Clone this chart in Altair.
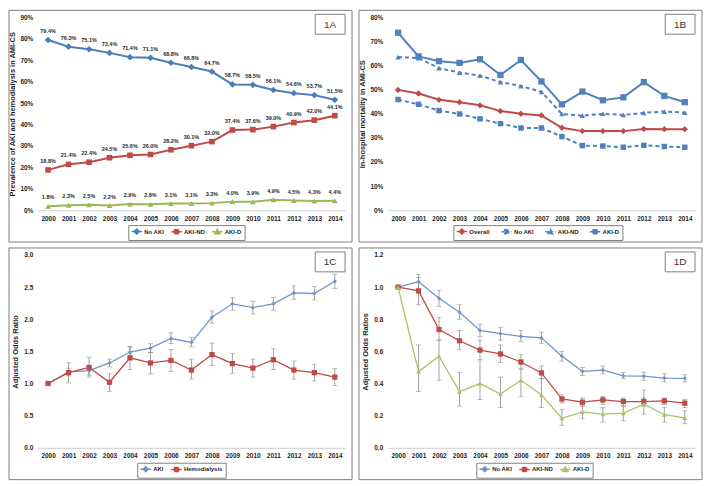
import altair as alt
import pandas as pd

years = [str(y) for y in range(2000, 2015)]

# ---- Panel 1A: prevalence (%) ----
a_names = ["No AKI", "AKI-ND", "AKI-D"]
a_no_aki = [79.4, 76.3, 75.1, 73.4, 71.4, 71.1, 68.8, 66.8, 64.7, 58.7, 58.5, 56.1, 54.6, 53.7, 51.5]
a_aki_nd = [18.8, 21.4, 22.4, 24.5, 25.6, 26.0, 28.2, 30.1, 32.0, 37.4, 37.6, 39.0, 40.9, 42.0, 44.1]
a_aki_d = [1.8, 2.3, 2.5, 2.2, 2.9, 2.8, 3.1, 3.1, 3.3, 4.0, 3.9, 4.9, 4.5, 4.3, 4.4]

# ---- Panel 1B: in-hospital mortality (%) ----
b_names = ["Overall", "No AKI", "AKI-ND", "AKI-D"]
b_overall = [49.9, 48.4, 45.8, 44.8, 43.5, 41.1, 40.0, 39.3, 34.2, 32.8, 32.8, 32.8, 33.7, 33.6, 33.6]
b_no_aki = [45.9, 43.9, 41.3, 39.9, 37.9, 35.9, 34.1, 34.1, 30.5, 26.8, 26.6, 26.1, 26.9, 26.4, 26.1]
b_aki_nd = [63.5, 63.1, 58.9, 57.1, 55.8, 53.1, 51.5, 49.1, 39.9, 39.2, 40.0, 39.5, 40.4, 40.9, 40.5]
b_aki_d = [73.6, 63.8, 61.8, 61.1, 62.6, 56.1, 62.3, 53.4, 43.9, 49.2, 45.6, 46.8, 53.1, 47.4, 44.8]

# ---- Panel 1C: adjusted odds ratio ----
c_names = ["AKI", "Hemodialysis"]
c_aki = [1.00, 1.18, 1.20, 1.32, 1.49, 1.55, 1.70, 1.64, 2.03, 2.24, 2.18, 2.24, 2.41, 2.40, 2.59]
c_aki_lo = [1.00, 1.12, 1.13, 1.26, 1.42, 1.48, 1.62, 1.57, 1.94, 2.14, 2.08, 2.14, 2.31, 2.30, 2.48]
c_aki_hi = [1.00, 1.24, 1.26, 1.38, 1.58, 1.62, 1.79, 1.72, 2.13, 2.34, 2.28, 2.34, 2.52, 2.51, 2.70]
c_hd = [1.00, 1.17, 1.25, 1.02, 1.40, 1.32, 1.36, 1.21, 1.45, 1.31, 1.24, 1.37, 1.21, 1.17, 1.10]
c_hd_lo = [1.00, 1.01, 1.10, 0.88, 1.22, 1.15, 1.19, 1.07, 1.28, 1.16, 1.10, 1.22, 1.07, 1.04, 0.97]
c_hd_hi = [1.00, 1.32, 1.41, 1.15, 1.57, 1.48, 1.53, 1.38, 1.63, 1.47, 1.38, 1.54, 1.35, 1.30, 1.23]

# ---- Panel 1D: adjusted odds ratios ----
d_names = ["No AKI", "AKI-ND", "AKI-D"]
d_no_aki = [1.00, 1.034, 0.93, 0.844, 0.73, 0.71, 0.694, 0.684, 0.57, 0.476, 0.484, 0.448, 0.446, 0.434, 0.432]
d_no_aki_lo = [1.00, 0.99, 0.88, 0.80, 0.69, 0.67, 0.66, 0.65, 0.54, 0.45, 0.46, 0.43, 0.42, 0.41, 0.41]
d_no_aki_hi = [1.00, 1.08, 0.98, 0.89, 0.77, 0.75, 0.73, 0.72, 0.60, 0.50, 0.51, 0.47, 0.47, 0.46, 0.455]
d_aki_nd = [1.00, 0.976, 0.736, 0.666, 0.608, 0.584, 0.534, 0.466, 0.304, 0.284, 0.298, 0.288, 0.288, 0.292, 0.278]
d_aki_nd_lo = [1.00, 0.89, 0.67, 0.61, 0.55, 0.53, 0.49, 0.43, 0.28, 0.26, 0.27, 0.26, 0.26, 0.27, 0.25]
d_aki_nd_hi = [1.00, 1.06, 0.81, 0.73, 0.67, 0.64, 0.58, 0.51, 0.33, 0.31, 0.32, 0.31, 0.31, 0.31, 0.30]
d_aki_d = [1.00, 0.474, 0.57, 0.35, 0.40, 0.334, 0.42, 0.33, 0.184, 0.224, 0.21, 0.216, 0.272, 0.206, 0.186]
d_aki_d_lo = [1.00, 0.35, 0.42, 0.26, 0.30, 0.25, 0.32, 0.25, 0.14, 0.18, 0.16, 0.17, 0.21, 0.16, 0.15]
d_aki_d_hi = [1.00, 0.64, 0.67, 0.47, 0.54, 0.44, 0.49, 0.43, 0.24, 0.26, 0.25, 0.26, 0.36, 0.25, 0.23]

# ---- styling ----
FN = "Liberation Sans, Arial, sans-serif"
FR = "Liberation Sans, Arial, sans-serif"
TXT = "#1f1f1f"
FRAME = "#7f7f7f"
ERR = "#8a8a8a"
BLUE = "#4a7ebb"
BLUE_B = "#4f81bd"
BLUE_L = "#7094c8"
RED = "#be4b48"
GREEN = "#98b954"
GREEN_L = "#a8c46a"
W, H = 309, 194
L, R, T, B = 29, 7, 7, 32

P_DIAMOND = "M-2.1,0H2.1M0,-1L1,0L0,1L-1,0Z"
P_SQUARE = "M-2.1,0H2.1M-0.8,-0.8H0.8V0.8H-0.8Z"
P_TRI = "M-2.1,0H2.1M0,-1L1,0.8H-1Z"


def long_df(names, vals, los=None, his=None):
    rows = []
    for i, s in enumerate(names):
        for j, y in enumerate(years):
            r = {"year": y, "series": s, "value": vals[i][j]}
            if los is not None:
                r["lo"] = los[i][j]
                r["hi"] = his[i][j]
            rows.append(r)
    return pd.DataFrame(rows)


X = alt.X("year:O", scale=alt.Scale(type="point", padding=0.5),
          axis=alt.Axis(title=None, labelAngle=0, labelFont=FN, labelFontSize=6.5,
                        labelFontWeight="bold", labelColor=TXT, labelPadding=5,
                        ticks=False, domain=True, domainColor="#d0d0d0", grid=False,
                        zindex=1))


def yenc(field, domain, values, expr, title, tpad):
    return alt.Y(f"{field}:Q", scale=alt.Scale(domain=domain, nice=False),
                 axis=alt.Axis(values=values, labelExpr=expr, title=title, ticks=False,
                               domain=False, grid=False, labelFont=FN, labelFontSize=6.5,
                               labelFontWeight="bold", labelColor=TXT, labelPadding=5,
                               titleFont=FR, titleFontSize=7.5, titleFontWeight="bold",
                               titleColor=TXT, titlePadding=tpad, zindex=1))


def frame_layers(label):
    base = alt.Chart(pd.DataFrame({"k": [label]}))
    border = base.mark_rect(fill="white", fillOpacity=0, stroke=FRAME, strokeWidth=1).encode(
        x=alt.value(-L), x2=alt.value(W + R), y=alt.value(-T), y2=alt.value(H + B))
    box = base.mark_rect(fill="white", stroke=FRAME, strokeWidth=1).encode(
        x=alt.value(W - 30), x2=alt.value(W), y=alt.value(-3), y2=alt.value(17))
    txt = base.mark_text(font=FR, fontSize=10, color="#333").encode(
        x=alt.value(W - 15), y=alt.value(7.5), text="k:N")
    return border, box, txt


def legend_layer(df, names, colors, paths, dashes, lx, ly, colpad=4):
    leg = alt.Legend(title=None, orient="none", legendX=lx, legendY=ly,
                     direction="horizontal", strokeColor=FRAME, padding=3,
                     symbolSize=25, symbolStrokeWidth=1.5, labelFont=FN,
                     labelFontSize=6, labelFontWeight="bold", labelColor=TXT,
                     columnPadding=colpad, labelOffset=4, symbolOffset=2)
    return alt.Chart(df).transform_filter("false").mark_point(filled=True, opacity=1).encode(
        fill=alt.Fill("series:N", scale=alt.Scale(domain=names, range=colors), legend=leg),
        stroke=alt.Stroke("series:N", scale=alt.Scale(domain=names, range=colors), legend=leg),
        shape=alt.Shape("series:N", scale=alt.Scale(domain=names, range=paths), legend=leg),
        strokeDash=alt.StrokeDash("series:N", scale=alt.Scale(domain=names, range=dashes), legend=leg),
    )


def series(base, name, color, shape, size, width, dash=None):
    sub = base.transform_filter(alt.datum.series == name)
    lk = dict(color=color, strokeWidth=width)
    if dash:
        lk["strokeDash"] = dash
    line = sub.mark_line(**lk)
    pts = sub.mark_point(shape=shape, filled=True, color=color, size=size, opacity=1)
    return [line, pts]


def errbars(df, yfun, name):
    sub = alt.Chart(df).transform_filter(alt.datum.series == name)
    rule = sub.mark_rule(color=ERR, strokeWidth=0.8).encode(x=X, y=yfun("lo"), y2="hi:Q")
    cap1 = sub.mark_tick(color=ERR, thickness=0.8, size=5).encode(x=X, y=yfun("lo"))
    cap2 = sub.mark_tick(color=ERR, thickness=0.8, size=5).encode(x=X, y=yfun("hi"))
    return [rule, cap1, cap2]


# ---------- 1A ----------
dfA = long_df(a_names, [a_no_aki, a_aki_nd, a_aki_d])
yA = lambda f: yenc(f, [0, 90], list(range(0, 91, 10)), "datum.value + '%'",
                    "Prevalence of AKI and hemodialysis in AMI-CS", 3)
baseA = alt.Chart(dfA).encode(x=X, y=yA("value"))
layersA = list(frame_layers("1A"))
layersA += series(baseA, "No AKI", BLUE, "diamond", 45, 2)
layersA += series(baseA, "AKI-ND", RED, "square", 32, 2)
layersA += series(baseA, "AKI-D", GREEN, "triangle-up", 32, 2)
layersA.append(baseA.transform_calculate(lab="format(datum.value, '.1f') + '%'").mark_text(
    dy=-9, font=FN, fontSize=5.5, fontWeight="bold", color=TXT).encode(text="lab:N"))
layersA.append(legend_layer(dfA, a_names, [BLUE, RED, GREEN], [P_DIAMOND, P_SQUARE, P_TRI],
                            [[1, 0], [1, 0], [1, 0]], 91, H + 15))
pA = alt.layer(*layersA).properties(width=W, height=H)

# ---------- 1B ----------
dfB = long_df(b_names, [b_overall, b_no_aki, b_aki_nd, b_aki_d])
yB = lambda f: yenc(f, [0, 80], list(range(0, 81, 10)), "datum.value + '%'",
                    "In-hospital mortality in AMI-CS", 3)
baseB = alt.Chart(dfB).encode(x=X, y=yB("value"))
layersB = list(frame_layers("1B"))
layersB += series(baseB, "Overall", RED, "diamond", 40, 2)
layersB += series(baseB, "No AKI", BLUE_B, "square", 30, 2, [4, 3])
layersB += series(baseB, "AKI-ND", BLUE_B, "triangle-up", 30, 2, [4, 3])
layersB += series(baseB, "AKI-D", BLUE_B, "square", 40, 2)
layersB.append(legend_layer(dfB, b_names, [RED, BLUE_B, BLUE_B, BLUE_B],
                            [P_DIAMOND, P_SQUARE, P_TRI, P_SQUARE],
                            [[1, 0], [3, 2], [3, 2], [1, 0]], 66, H + 15, 8))
pB = alt.layer(*layersB).properties(width=W, height=H)

# ---------- 1C ----------
dfC = long_df(c_names, [c_aki, c_hd], [c_aki_lo, c_hd_lo], [c_aki_hi, c_hd_hi])
yC = lambda f: yenc(f, [0, 3], [0, 0.5, 1, 1.5, 2, 2.5, 3], "format(datum.value, '.1f')",
                    "Adjusted Odds Ratio", 4)
baseC = alt.Chart(dfC).encode(x=X, y=yC("value"))
layersC = list(frame_layers("1C"))
layersC += errbars(dfC, yC, "AKI")
layersC += errbars(dfC, yC, "Hemodialysis")
layersC += series(baseC, "AKI", BLUE_L, "diamond", 18, 1.3)
layersC += series(baseC, "Hemodialysis", RED, "square", 28, 1.3)
layersC.append(legend_layer(dfC, c_names, [BLUE_L, RED], [P_DIAMOND, P_SQUARE],
                            [[1, 0], [1, 0]], 100, H + 15))
pC = alt.layer(*layersC).properties(width=W, height=H)

# ---------- 1D ----------
dfD = long_df(d_names, [d_no_aki, d_aki_nd, d_aki_d],
              [d_no_aki_lo, d_aki_nd_lo, d_aki_d_lo], [d_no_aki_hi, d_aki_nd_hi, d_aki_d_hi])
yD = lambda f: yenc(f, [0, 1.2], [0, 0.2, 0.4, 0.6, 0.8, 1.0, 1.2], "format(datum.value, '.1f')",
                    "Adjusted Odds Ratios", 4)
baseD = alt.Chart(dfD).encode(x=X, y=yD("value"))
layersD = list(frame_layers("1D"))
for s in d_names:
    layersD += errbars(dfD, yD, s)
layersD += series(baseD, "No AKI", BLUE_L, "diamond", 18, 1.3)
layersD += series(baseD, "AKI-ND", RED, "square", 28, 1.3)
layersD += series(baseD, "AKI-D", GREEN_L, "triangle-up", 24, 1.3)
layersD.append(legend_layer(dfD, d_names, [BLUE_L, RED, GREEN_L], [P_DIAMOND, P_SQUARE, P_TRI],
                            [[1, 0], [1, 0], [1, 0]], 89, H + 15))
pD = alt.layer(*layersD).properties(width=W, height=H)

IND = dict(fill="independent", stroke="independent", shape="independent",
           strokeDash="independent")


def row(a, b):
    return alt.hconcat(a, b, spacing=5).resolve_scale(**IND).resolve_legend(**IND)


chart = alt.vconcat(row(pA, pB), row(pC, pD), spacing=4).resolve_scale(**IND).resolve_legend(
    **IND).properties(padding=0, background="white").configure_view(stroke=None)

chart.save("out.html", embed_options={"renderer": "svg", "actions": False})
